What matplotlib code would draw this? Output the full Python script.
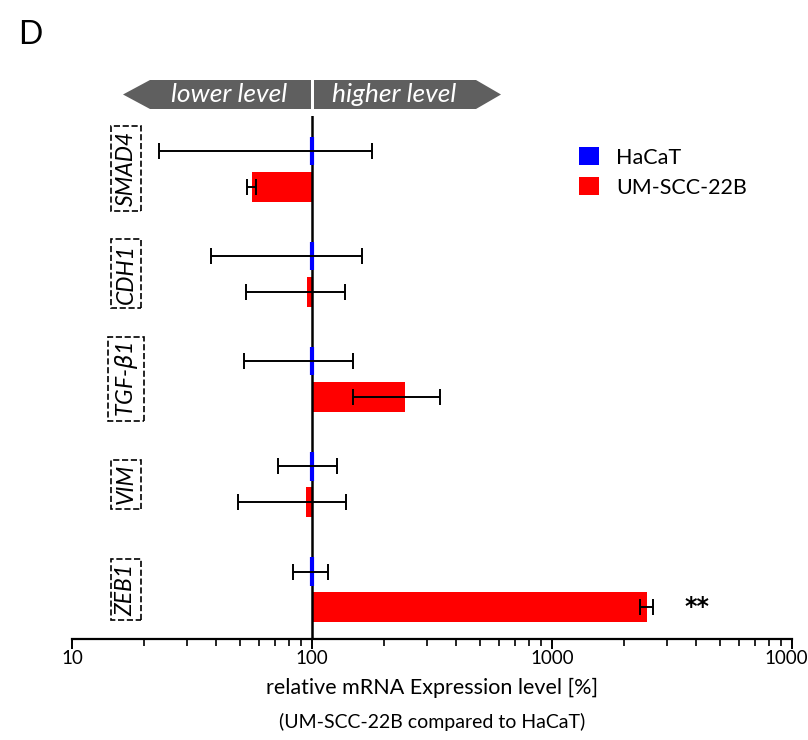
import numpy as np
import matplotlib.pyplot as plt
from matplotlib.patches import Patch, Polygon
from matplotlib.transforms import blended_transform_factory

plt.rcParams['font.family'] = ['Lato', 'DejaVu Sans']

# ------------------------------------------------------------------
# data (relative mRNA expression, % of HaCaT)
# ------------------------------------------------------------------
genes = ["SMAD4", "CDH1", r"TGF-$\beta$1", "VIM", "ZEB1"]
hacat_mean = [100, 100, 100, 100, 100]
hacat_err = [77, 62, 48, 27.5, 16.5]
um_mean = [56, 95, 245, 94, 2480]
um_err = [2.5, 42, 97, 45, 155]
signif = ["", "", "", "", "**"]

BASE = 100.0
COL_HACAT = "#0000ff"
COL_UM = "#ff0000"

fig = plt.figure(figsize=(8.08, 7.40), dpi=100)
W, H = 808, 740
ax = fig.add_axes([72 / W, (H - 639) / H, 720 / W, (639 - 116) / H])

y_h = np.arange(len(genes), dtype=float)
y_u = y_h + 0.34

# HaCaT: zero-width bars at 100 -> drawn as thick blue ticks
ax.barh(y_h, np.array(hacat_mean) - BASE, left=BASE, height=0.27,
        color=COL_HACAT, edgecolor=COL_HACAT, lw=3, zorder=4)
ax.barh(y_u, np.array(um_mean) - BASE, left=BASE, height=0.285,
        color=COL_UM, edgecolor="none", zorder=2)

ax.errorbar(hacat_mean, y_h, xerr=hacat_err, fmt="none", ecolor="k",
            elinewidth=1.4, capsize=6, capthick=1.4, zorder=5)
ax.errorbar(um_mean, y_u, xerr=um_err, fmt="none", ecolor="k",
            elinewidth=1.4, capsize=6, capthick=1.4, zorder=5)

ax.axvline(BASE, color="k", lw=1.8, zorder=3)

for yy, m, e, s in zip(y_u, um_mean, um_err, signif):
    if s:
        ax.text((m + e) * 1.35, yy, s, fontsize=17, fontweight="bold",
                va="center", ha="left", family="DejaVu Sans")

ax.set_xscale("log")
ax.set_xlim(10, 10000)
ax.set_ylim(4.64, -0.33)
ax.set_xticks([10, 100, 1000, 10000])
ax.set_xticklabels(["10", "100", "1000", "10000"])
ax.tick_params(axis="x", which="major", length=7, width=1.4, labelsize=13.5, pad=1)
ax.tick_params(axis="x", which="minor", length=5, width=1.2)
ax.set_yticks([])
for sp in ["top", "right", "left"]:
    ax.spines[sp].set_visible(False)
ax.spines["bottom"].set_linewidth(1.6)

# gene labels in dashed boxes
tr = blended_transform_factory(ax.transAxes, ax.transData)
for g, yy in zip(genes, (y_h + y_u) / 2):
    ax.text((126 - 72) / 720, yy, g, rotation=90, style="italic", fontsize=16.5,
            ha="center", va="center", transform=tr,
            bbox=dict(boxstyle="square,pad=0.2", fc="none", ec="k",
                      ls="--", lw=1.2))

# axis titles
fig.text(432 / W, 1 - 688 / H, "relative mRNA Expression level [%]",
         ha="center", va="center", fontsize=15.5)
fig.text(432 / W, 1 - 722 / H, "(UM-SCC-22B compared to HaCaT)",
         ha="center", va="center", fontsize=14)

# panel letter
fig.text(18 / W, 1 - 35 / H, "D", ha="left", va="center", fontsize=23)

# direction banner above plot
def px(x, y):
    return (x / W, 1 - y / H)

yt, yb, ym = 80, 109, 94.5
left_arrow = [px(123, ym), px(150, yt), px(311, yt), px(311, yb), px(150, yb)]
right_arrow = [px(314, yt), px(476, yt), px(501, ym), px(476, yb), px(314, yb)]
for pts in (left_arrow, right_arrow):
    fig.patches.append(Polygon(pts, closed=True, transform=fig.transFigure,
                               fc="#5f5f5f", ec="none"))
fig.text(229 / W, 1 - ym / H, "lower level", color="white", style="italic",
         fontsize=19, ha="center", va="center")
fig.text(394 / W, 1 - ym / H, "higher level", color="white", style="italic",
         fontsize=19, ha="center", va="center")

# legend
handles = [Patch(fc=COL_HACAT, ec="none", label="HaCaT"),
           Patch(fc=COL_UM, ec="none", label="UM-SCC-22B")]
fig.legend(handles=handles, loc="upper left", bbox_to_anchor=(560 / W, 1 - 128 / H),
           frameon=False, fontsize=15.5, handlelength=0.9, handleheight=0.9,
           handletextpad=0.8, labelspacing=0.45)

fig.savefig("out.png", dpi=100)
